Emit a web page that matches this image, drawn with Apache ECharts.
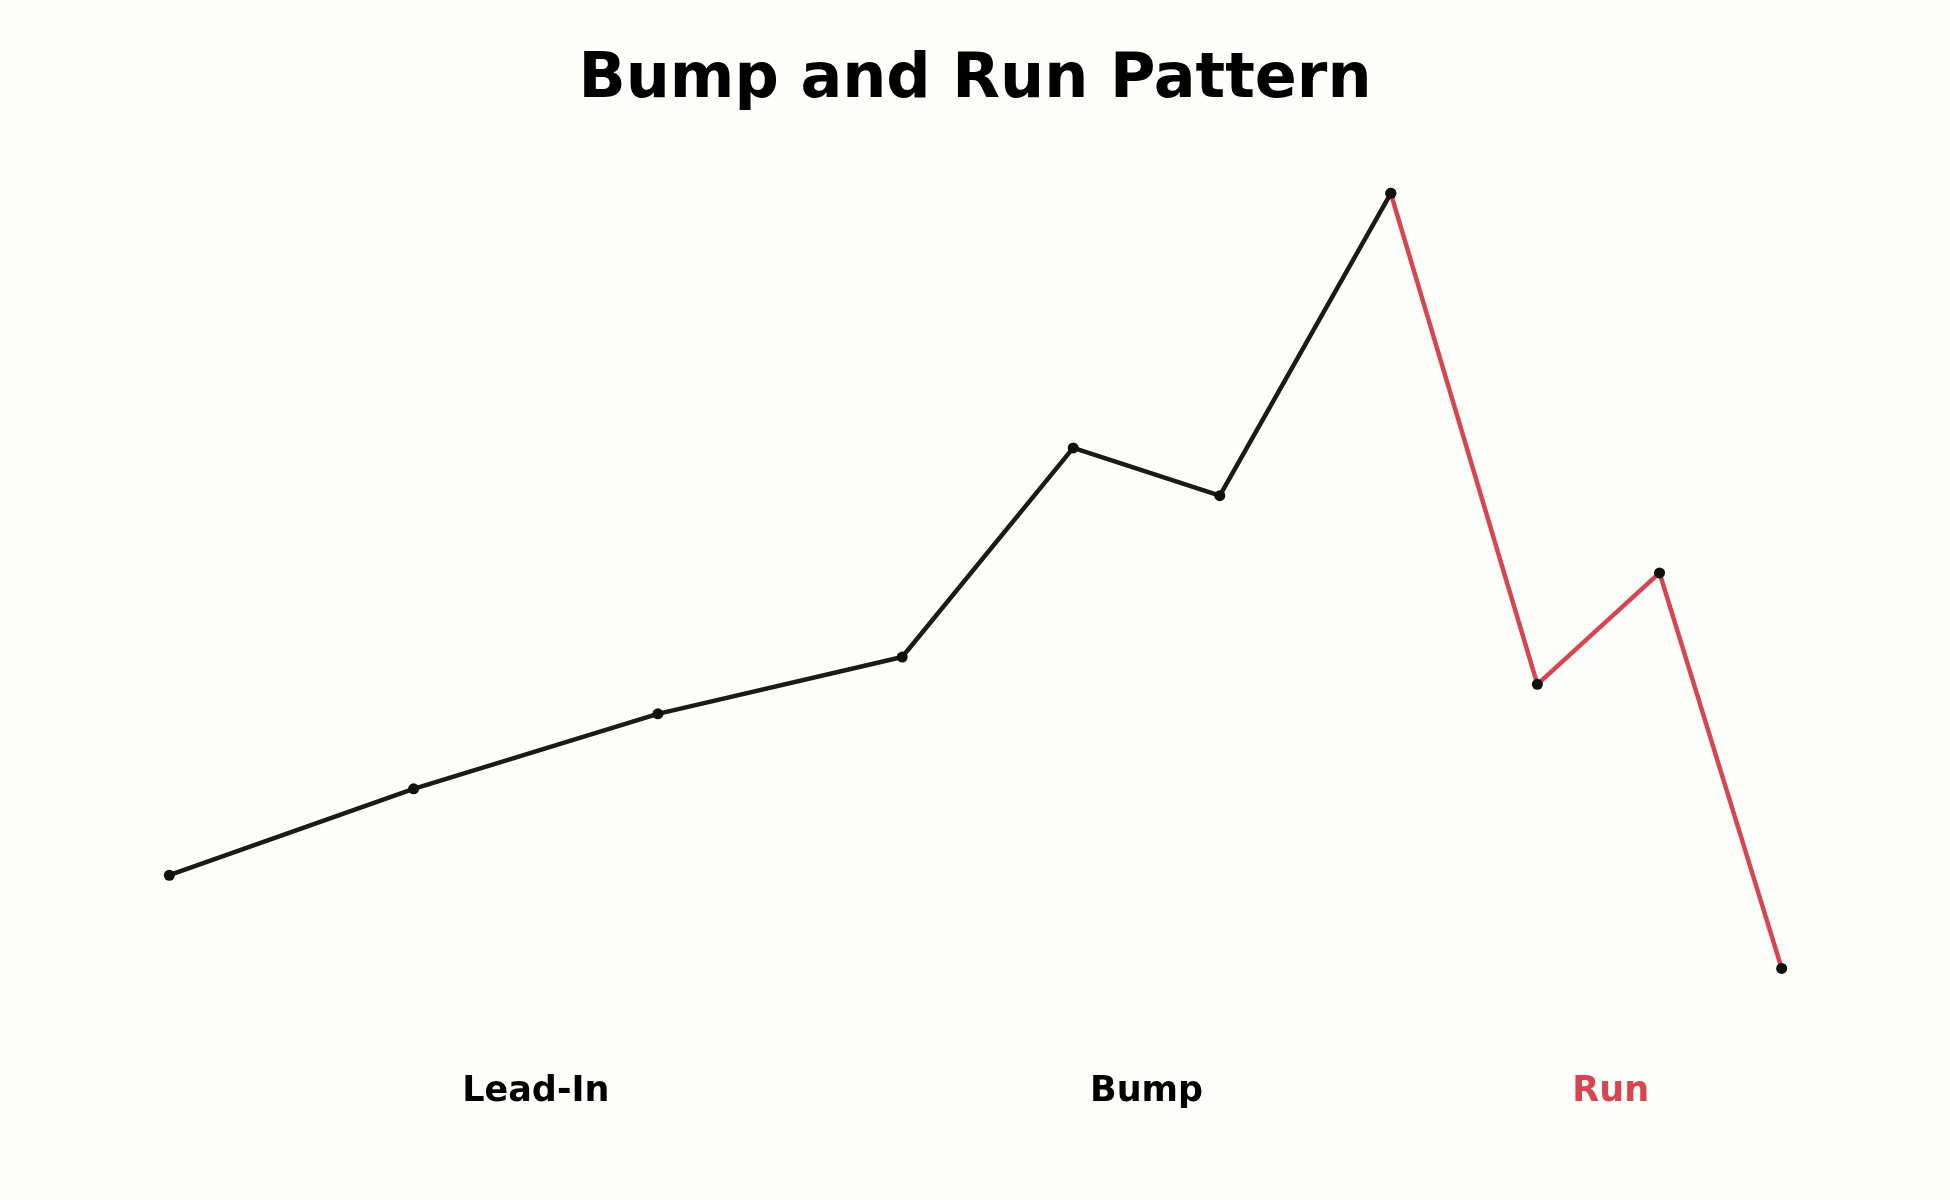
<!DOCTYPE html>
<html>
<head>
<meta charset="utf-8">
<title>Bump and Run Pattern</title>
<script src="https://cdn.jsdelivr.net/npm/echarts@6/dist/echarts.min.js"></script>
<style>
    html, body { margin: 0; padding: 0; background: #fdfdfa; }
    #chart { width: 1950px; height: 1200px; }
</style>
</head>
<body>
<div id="chart"></div>
<script>
// days and prices
var days = [0, 10, 20, 30, 37, 43, 50, 56, 61, 66];
var prices = [100, 103.8, 107.1, 109.6, 118.8, 116.7, 130, 108.4, 113.3, 95.9];
var runStart = 6; // the peak, from here the line turns red

var phaseNames = ['Lead-In', 'Bump', 'Run'];
var phaseDays = [15, 40, 59];
var phaseLevel = 90.45;

var black = '#1a1a1a';
var red = '#d64550';

var upPart = [];
var runPart = [];
for (var i = 0; i < days.length; i++) {
    if (i <= runStart) upPart.push([days[i], prices[i]]);
    if (i >= runStart) runPart.push([days[i], prices[i]]);
}

var labelPts = [];
for (var j = 0; j < phaseNames.length; j++) {
    labelPts.push({
        value: [phaseDays[j], phaseLevel],
        name: phaseNames[j],
        label: { color: j == 2 ? red : '#000' }
    });
}

var myChart = echarts.init(document.getElementById('chart'));
var option = {
    backgroundColor: '#fdfdfa',
    animation: false,
    title: {
        text: 'Bump and Run Pattern',
        left: 'center',
        top: 45,
        textStyle: {
            fontFamily: 'DejaVu Sans',
            fontWeight: 'bold',
            fontSize: 62,
            lineHeight: 62,
            color: '#000'
        }
    },
    grid: { left: 88.7, top: 79.7, width: 1773.6, height: 1068.3 },
    xAxis: {
        type: 'value', min: -3.3, max: 69.3, show: false
    },
    yAxis: {
        type: 'value', min: 88, max: 135, show: false
    },
    series: [
        {
            type: 'line',
            data: upPart,
            symbol: 'circle',
            symbolSize: 11,
            lineStyle: { color: black, width: 4.5 },
            itemStyle: { color: '#111' },
            z: 2
        },
        {
            type: 'line',
            data: runPart,
            symbol: 'circle',
            symbolSize: 11,
            lineStyle: { color: red, width: 4.5 },
            itemStyle: { color: '#111' },
            z: 3
        },
        {
            type: 'scatter',
            data: labelPts,
            symbolSize: 0,
            silent: true,
            itemStyle: { opacity: 1 },
            label: {
                show: true,
                position: 'inside',
                formatter: '{b}',
                fontFamily: 'DejaVu Sans',
                fontWeight: 'bold',
                fontSize: 35,
                opacity: 1
            }
        }
    ]
};
myChart.setOption(option);
</script>
</body>
</html>
